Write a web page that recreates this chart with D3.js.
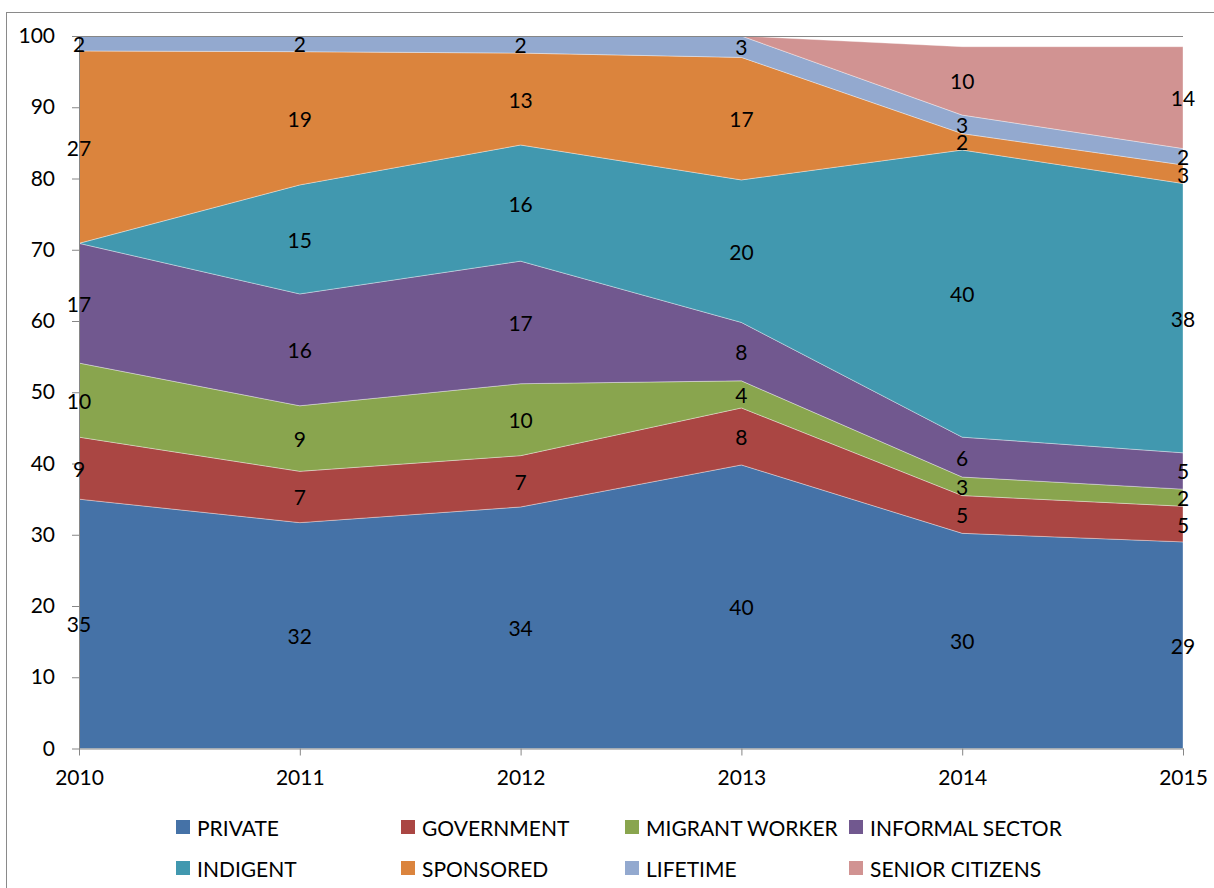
<!DOCTYPE html>
<html>
<head>
<meta charset="utf-8">
<script src="https://cdn.jsdelivr.net/npm/d3@7"></script>
<style>
  html, body { margin: 0; padding: 0; background: #fff; }
  svg { display: block; font-family: Lato, "Open Sans", sans-serif; }
</style>
</head>
<body>
<svg id="chart" width="1214" height="888"></svg>
<script>
// Membership share by category, 2010–2015 (percent)
const years = [2010, 2011, 2012, 2013, 2014, 2015];
const privateVals   = [35.0, 31.7, 33.9, 39.8, 30.2, 29.0];
const government    = [8.7, 7.2, 7.2, 8.0, 5.3, 5.0];
const migrantWorker = [10.4, 9.2, 10.1, 3.8, 2.6, 2.4];
const informalSector= [16.8, 15.7, 17.2, 8.2, 5.6, 5.1];
const indigent      = [0, 15.3, 16.3, 20.0, 40.3, 37.8];
const sponsored     = [27.0, 18.7, 12.9, 17.2, 2.3, 2.6];
const lifetime      = [2.1, 2.2, 2.4, 3.0, 2.6, 2.3];
const seniorCitizens= [0, 0, 0, 0, 9.6, 14.3];

const seriesNames = ["PRIVATE", "GOVERNMENT", "MIGRANT WORKER", "INFORMAL SECTOR",
                     "INDIGENT", "SPONSORED", "LIFETIME", "SENIOR CITIZENS"];
const seriesValues = [privateVals, government, migrantWorker, informalSector,
                      indigent, sponsored, lifetime, seniorCitizens];
const colors = ["#4572A7", "#AA4643", "#89A54E", "#71588F",
                "#4198AF", "#DB843D", "#93A9CF", "#D19392"];
const yTicks = [0, 10, 20, 30, 40, 50, 60, 70, 80, 90, 100];

// rows for the stack generator
const rows = years.map((yr, i) => {
  const r = { year: yr };
  seriesNames.forEach((n, s) => { r[n] = seriesValues[s][i]; });
  return r;
});

const svg = d3.select("#chart");
const axisColor = "#868686";

// outer chart border
svg.append("rect")
  .attr("x", 6.5).attr("y", 12.5)
  .attr("width", 1230).attr("height", 900)
  .attr("fill", "none").attr("stroke", "#8a8a8a").attr("stroke-width", 1);

const x = d3.scalePoint().domain(years).range([79, 1183]);
const y = d3.scaleLinear().domain([0, 100]).range([748.5, 36]);

const stack = d3.stack().keys(seriesNames);
const layers = stack(rows);

const area = d3.area()
  .x(d => x(d.data.year))
  .y0(d => y(d[0]))
  .y1(d => y(d[1]));

svg.append("g").selectAll("path")
  .data(layers)
  .join("path")
  .attr("d", area)
  .attr("fill", (d, i) => colors[i])
  .attr("stroke", "rgba(255,255,255,0.45)")
  .attr("stroke-width", 0.8)
  .attr("stroke-linejoin", "round");

// top reference line at 100
svg.append("line")
  .attr("x1", x(years[0])).attr("x2", x(years[years.length - 1]))
  .attr("y1", y(100) + 0.5).attr("y2", y(100) + 0.5)
  .attr("stroke", axisColor).attr("stroke-width", 1);

// y axis
const yAxis = svg.append("g")
  .attr("transform", `translate(${x(years[0])},0)`)
  .call(d3.axisLeft(y).tickValues(yTicks).tickSize(7).tickSizeOuter(0).tickPadding(17));
yAxis.select(".domain").attr("stroke", axisColor);
yAxis.selectAll(".tick line").attr("stroke", axisColor);
yAxis.selectAll("text").attr("font-size", 21).attr("fill", "#000")
  .attr("font-family", "Lato, 'Open Sans', sans-serif");

// x axis
const xAxis = svg.append("g")
  .attr("transform", `translate(0,${y(0)})`)
  .call(d3.axisBottom(x).tickSize(7).tickSizeOuter(0).tickPadding(15));
xAxis.select(".domain").attr("stroke", axisColor);
xAxis.selectAll(".tick line").attr("stroke", axisColor);
xAxis.selectAll("text").attr("font-size", 21).attr("fill", "#000")
  .attr("font-family", "Lato, 'Open Sans', sans-serif");

// data labels centred in each band at each year
const fmt = d3.format(".0f");
const labelG = svg.append("g");
layers.forEach(layer => {
  layer.forEach(d => {
    const v = d[1] - d[0];
    if (v <= 0) return;
    labelG.append("text")
      .attr("x", x(d.data.year))
      .attr("y", y((d[0] + d[1]) / 2))
      .attr("text-anchor", "middle")
      .attr("dominant-baseline", "central")
      .attr("font-size", 21)
      .attr("fill", "#000")
      .text(fmt(v));
  });
});

// legend: two rows of four
const legendCols = [176, 401, 625, 849];
const legendRows = [827, 868];
const legend = svg.append("g");
seriesNames.forEach((name, i) => {
  const cx = legendCols[i % 4];
  const cy = legendRows[Math.floor(i / 4)];
  legend.append("rect")
    .attr("x", cx).attr("y", cy - 7)
    .attr("width", 14).attr("height", 14)
    .attr("fill", colors[i]);
  legend.append("text")
    .attr("x", cx + 21).attr("y", cy)
    .attr("dominant-baseline", "central")
    .attr("font-size", 21)
    .attr("fill", "#000")
    .text(name);
});
</script>
</body>
</html>
